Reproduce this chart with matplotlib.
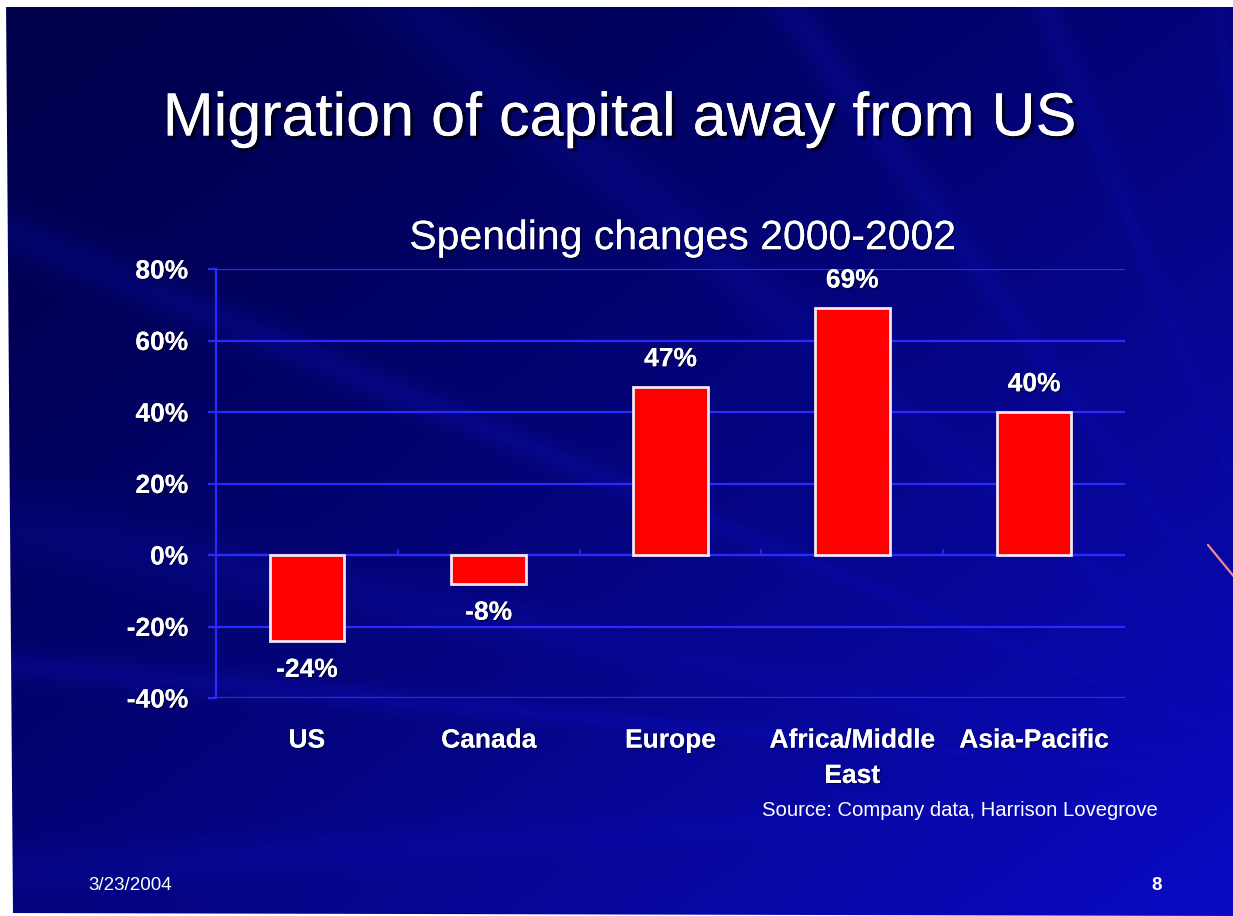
import numpy as np
import matplotlib
matplotlib.use("Agg")
import matplotlib.pyplot as plt
import matplotlib.patheffects as pe
from matplotlib.patches import Polygon

# Chart data
categories = ["US", "Canada", "Europe", "Africa/Middle\nEast", "Asia-Pacific"]
changes = [-24, -8, 47, 69, 40]
y_ticks = [-40, -20, 0, 20, 40, 60, 80]
title = "Migration of capital away from US"
subtitle = "Spending changes 2000-2002"
source = "Source: Company data, Harrison Lovegrove"
date_text = "3/23/2004"
page_no = "8"

W, H, DPI = 1233, 916, 100
FONT = "Liberation Sans"

fig = plt.figure(figsize=(W / DPI, H / DPI), dpi=DPI, facecolor="white")

# ---- slide background: dark-to-bright blue gradient with soft rays ----
bg = fig.add_axes([0, 0, 1, 1])
bg.set_axis_off()
yy, xx = np.mgrid[0:H, 0:W]
xn = xx / W
yn = yy / H
t = np.clip(0.50 * yn + 0.50 * xn, 0, 1) ** 1.4
dark = np.array([0.0, 0.0, 0.30])
bright = np.array([0.04, 0.04, 0.78])
img = dark + (bright - dark) * t[..., None]

# light rays fanning toward the lower right
cx, cy = 1.10 * W, 0.86 * H
ang = np.arctan2(yy - cy, xx - cx)
dist = np.hypot(xx - cx, yy - cy) / W
for a0, wid, amp in [(-2.20, 0.020, 0.09), (-2.45, 0.030, 0.07),
                     (-2.75, 0.015, 0.09), (-2.95, 0.025, 0.06),
                     (-3.05, 0.012, 0.08), (-1.95, 0.018, 0.07),
                     (-1.75, 0.012, 0.05), (3.08, 0.02, 0.05)]:
    d = np.angle(np.exp(1j * (ang - a0)))
    ray = amp * np.exp(-(d / wid) ** 2) * np.clip(dist * 1.2, 0, 1)
    img[..., 0] += ray * 0.15
    img[..., 1] += ray * 0.15
    img[..., 2] += ray * 1.0
img = np.clip(img, 0, 1)
bg.imshow(img, extent=[0, W, H, 0], aspect="auto", interpolation="bilinear")
bg.set_xlim(0, W)
bg.set_ylim(H, 0)

# white scan margins around the slide
for poly in ([(0, 0), (W, 0), (W, 7), (0, 7)],
             [(0, 0), (6, 0), (13, H), (0, H)],
             [(0, 913), (W, 916), (0, 916)]):
    bg.add_patch(Polygon(poly, closed=True, facecolor="white", edgecolor="none"))

# small salmon accent line on the right edge
bg.plot([1208, 1245], [545, 590], color="#f08a8a", lw=1.6, solid_capstyle="round")

shadow = [pe.withSimplePatchShadow(offset=(2.5, -2.5), shadow_rgbFace="black", alpha=0.65), pe.Normal()]
small_shadow = [pe.withSimplePatchShadow(offset=(1, -1), shadow_rgbFace="black", alpha=0.5), pe.Normal()]

# ---- titles ----
fig.text(0.503, 0.869, title, ha="center", va="center", color="white",
         fontsize=44, family=FONT, path_effects=shadow)
fig.text(0.554, 0.740, subtitle, ha="center", va="center", color="white",
         fontsize=29.5, family=FONT, path_effects=small_shadow)

# ---- bar chart ----
ax = fig.add_axes([216 / W, 1 - 698 / H, (1125 - 216) / W, (698 - 269) / H])
ax.set_facecolor("none")
x = np.arange(len(categories))
bars = ax.bar(x, changes, width=0.41, color="#ff0000", edgecolor="#f4e6f4",
              linewidth=2, zorder=3)
ax.set_xlim(-0.5, len(categories) - 0.5)
ax.set_ylim(-40, 80)

grid_c = "#2a2aff"
ax.set_yticks(y_ticks)
ax.set_yticklabels([f"{v}%" for v in y_ticks])
ax.yaxis.grid(True, color=grid_c, lw=1.6, zorder=1)
ax.axhline(0, color=grid_c, lw=1.6, zorder=2)
for s in ["top", "right", "bottom"]:
    ax.spines[s].set_visible(False)
ax.spines["left"].set_color(grid_c)
ax.spines["left"].set_linewidth(1.6)
ax.tick_params(axis="y", colors=grid_c, length=6, width=1.6, pad=14,
               labelcolor="white", labelsize=19)
ax.set_xticks(x)
ax.set_xticklabels(categories)
ax.tick_params(axis="x", length=0, pad=22, labelcolor="white", labelsize=19)
for lab in ax.get_xticklabels() + ax.get_yticklabels():
    lab.set_fontfamily(FONT)
    lab.set_fontweight("bold")
    lab.set_path_effects(small_shadow)
for lab in ax.get_xticklabels():
    lab.set_linespacing(1.6)

# category boundary ticks on the zero line
for b in np.arange(0.5, len(categories) - 0.5, 1.0):
    ax.plot([b, b], [0, 1.5], color=grid_c, lw=1.2, zorder=2)

# value labels
for xi, v in zip(x, changes):
    off = 20 if v >= 0 else -21
    ax.annotate(f"{v}%", (xi, v), xytext=(0, off), textcoords="offset points",
                ha="center", va="center", color="white", fontsize=19,
                fontweight="bold", family=FONT, path_effects=small_shadow)

# ---- footer texts ----
fig.text(762 / W, 1 - 811 / H, source, ha="left", va="center", color="white",
         fontsize=14.6, family=FONT)
fig.text(88 / W, 1 - 886 / H, date_text, ha="left", va="center", color="white",
         fontsize=13.5, family=FONT)
fig.text(1157 / W, 1 - 886 / H, page_no, ha="center", va="center", color="white",
         fontsize=13.5, family=FONT, fontweight="bold")

fig.savefig("out.png", dpi=DPI, facecolor="white")
